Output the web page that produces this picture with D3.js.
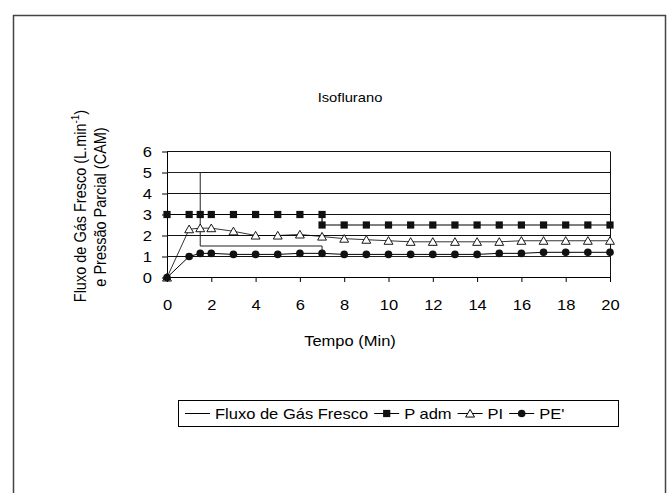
<!DOCTYPE html>
<html><head><meta charset="utf-8">
<script src="https://cdn.jsdelivr.net/npm/d3@7"></script>
<style>body{margin:0;background:#fff}svg text{font-family:"Liberation Sans",Arial,sans-serif;fill:#000}</style>
</head><body><svg id="c" width="671" height="493"></svg>
<script>
const title = "Isoflurano";
const xLabel = "Tempo (Min)";
const xTicks = [0,2,4,6,8,10,12,14,16,18,20];
const yTicks = [0,1,2,3,4,5,6];
const seriesNames = ["Fluxo de Gás Fresco","P adm","PI","PE'"];
const fluxoTime = [0,1.5,1.5,7,7,20];
const fluxo     = [5,5,1.5,1.5,1,1];
const pAdmTime = [0,1,1.5,2,3,4,5,6,7,7,8,9,10,11,12,13,14,15,16,17,18,19,20];
const pAdm     = [3,3,3,3,3,3,3,3,3,2.5,2.5,2.5,2.5,2.5,2.5,2.5,2.5,2.5,2.5,2.5,2.5,2.5,2.5];
const time = [0,1,1.5,2,3,4,5,6,7,8,9,10,11,12,13,14,15,16,17,18,19,20];
const pi   = [0,2.3,2.35,2.35,2.2,2.0,2.0,2.05,1.95,1.85,1.8,1.75,1.7,1.7,1.7,1.7,1.7,1.75,1.75,1.75,1.75,1.75];
const pe   = [0,1.0,1.15,1.15,1.1,1.1,1.1,1.15,1.15,1.1,1.1,1.1,1.1,1.1,1.1,1.1,1.15,1.15,1.2,1.2,1.2,1.2];

const SX = 1.18; // horizontal stretch of the original figure's lettering
const svg = d3.select("#c");
const x = d3.scaleLinear().domain([0,20]).range([167,610]);
const y = d3.scaleLinear().domain([0,6]).range([277.5,151.5]);

function stext(g, X, Y, str, size, anchor){
  return g.append("text").attr("transform",`translate(${X},${Y}) scale(${SX},1)`)
    .attr("text-anchor",anchor||"start").attr("font-size",size).text(str);
}

// outer frame
svg.append("rect").attr("x",13.5).attr("y",15.5).attr("width",652).attr("height",520)
  .attr("fill","none").attr("stroke","#444").attr("stroke-width",1.5);

// y axis with ticks
const yAxis = d3.axisLeft(y).tickValues(yTicks).tickSize(5).tickSizeOuter(0).tickFormat(()=> "");
const gy = svg.append("g").attr("transform","translate(167,0)").call(yAxis);
gy.select(".domain").attr("stroke","#000");
gy.selectAll(".tick line").attr("stroke","#000");
gy.selectAll(".tick").each(function(d){ stext(d3.select(this), -15, 5, d3.format("d")(d), 14, "end"); });

// gridlines
svg.append("g").selectAll("line").data(yTicks.filter(d=>d>0)).join("line")
  .attr("x1",167).attr("x2",610).attr("y1",d=>y(d)).attr("y2",d=>y(d))
  .attr("stroke","#111").attr("stroke-width",1);
// right border
svg.append("line").attr("x1",610.5).attr("x2",610.5).attr("y1",y(6)).attr("y2",y(0)).attr("stroke","#111");

const xAxis = d3.axisBottom(x).tickValues(xTicks).tickSize(5).tickSizeOuter(0).tickFormat(()=> "");
const gx = svg.append("g").attr("transform","translate(0,277)").call(xAxis);
gx.select(".domain").attr("stroke","#000");
gx.selectAll(".tick line").attr("stroke","#000");
gx.selectAll(".tick").each(function(d){ stext(d3.select(this), 0, 33, String(d), 14, "middle"); });

// fluxo line
const line = d3.line().x(d=>x(d[0])).y(d=>y(d[1]));
svg.append("path").datum(fluxoTime.map((t,i)=>[t,fluxo[i]])).attr("d",line)
  .attr("fill","none").attr("stroke","#222").attr("stroke-width",1);
// series
const sAdm = pAdmTime.map((t,i)=>[t,pAdm[i]]);
const sPi = time.map((t,i)=>[t,pi[i]]);
const sPe = time.map((t,i)=>[t,pe[i]]);
svg.append("path").datum(sPi).attr("d",line).attr("fill","none").attr("stroke","#000").attr("stroke-width",0.8);
svg.append("path").datum(sPe).attr("d",line).attr("fill","none").attr("stroke","#000").attr("stroke-width",1);
svg.append("path").datum(sAdm).attr("d",line).attr("fill","none").attr("stroke","#000").attr("stroke-width",1.2);

const sq = d3.symbol().type(d3.symbolSquare).size(52);
const tri = d3.symbol().type(d3.symbolTriangle).size(34);
const cir = d3.symbol().type(d3.symbolCircle).size(46);
svg.append("g").selectAll("path").data(sPi).join("path").attr("d",tri)
  .attr("transform",d=>`translate(${x(d[0])},${y(d[1])+1})`).attr("fill","#fff").attr("stroke","#000").attr("stroke-width",0.9);
svg.append("g").selectAll("path").data(sAdm).join("path").attr("d",sq)
  .attr("transform",d=>`translate(${x(d[0])},${y(d[1])})`).attr("fill","#111");
svg.append("g").selectAll("path").data(sPe).join("path").attr("d",cir)
  .attr("transform",d=>`translate(${x(d[0])},${y(d[1])})`).attr("fill","#111");

// title & x label
stext(svg, 350, 102, title, 12.5, "middle");
stext(svg, 350, 346, xLabel, 14, "middle");

// y label (rotated)
const yl1 = svg.append("text").attr("transform","translate(86,206) rotate(-90) scale(1,1.12)").attr("text-anchor","middle").attr("font-size",14.5);
yl1.append("tspan").text("Fluxo de Gás Fresco (L.min");
yl1.append("tspan").attr("font-size",10).attr("dy",-6).text("-1");
yl1.append("tspan").attr("dy",6).text(")");
svg.append("text").attr("transform","translate(106,207) rotate(-90) scale(1,1.12)").attr("text-anchor","middle").attr("font-size",14.5).text("e Pressão Parcial (CAM)");

// legend
const lg = svg.append("g");
const lrect = lg.append("rect").attr("x",178.5).attr("y",400.5).attr("height",26).attr("fill","#fff").attr("stroke","#000");
const syms = [null, sq, tri, cir];
const fills = [null, "#111", "#fff", "#111"];
const ly = 413.5;
let cx = 185;
seriesNames.forEach((name,i)=>{
  lg.append("line").attr("x1",cx).attr("x2",cx+25).attr("y1",ly).attr("y2",ly).attr("stroke","#000").attr("stroke-width",1);
  if(syms[i]){
    lg.append("path").attr("d",syms[i]).attr("transform",`translate(${cx+12.5},${ly+(i===2?1:0)})`)
      .attr("fill",fills[i]).attr("stroke",i===2?"#000":"none");
  }
  const t = stext(lg, cx+30, ly+5, name, 14, "start");
  const w = t.node().getComputedTextLength()*SX;
  cx = cx + 30 + w + 6;
});
lrect.attr("width", 440);
</script></body></html>
